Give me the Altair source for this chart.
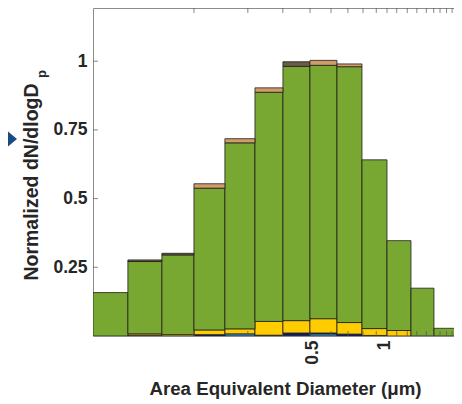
import altair as alt
import pandas as pd

# ---- data ----
bin_edges = [0.0601, 0.0841, 0.1167, 0.1589, 0.2141, 0.2860, 0.3744,
             0.4857, 0.6301, 0.8017, 1.0200, 1.2852, 1.6038, 2.0020]
layers = ["lightblue", "navy", "yellow", "green", "darkbrown", "tan"]
colors = ["#3d8fd8", "#0b1b8f", "#ffcc00", "#78a832", "#6b5a44", "#d29c68"]
lightblue = [0, 0.003, 0, 0, 0.008, 0, 0.003, 0.008, 0, 0, 0, 0, 0]
navy = [0, 0, 0, 0.005, 0, 0.003, 0.008, 0.003, 0.007, 0.002, 0, 0, 0]
yellow = [0, 0.005, 0.005, 0.017, 0.018, 0.050, 0.045, 0.052, 0.042, 0.025, 0.020, 0, 0]
green = [0.158, 0.263, 0.290, 0.516, 0.677, 0.834, 0.925, 0.922, 0.931, 0.614, 0.327, 0.174, 0.028]
darkbrown = [0, 0.006, 0.006, 0, 0, 0, 0.017, 0, 0, 0, 0, 0, 0]
tan = [0, 0, 0, 0.016, 0.015, 0.016, 0, 0.018, 0.010, 0, 0, 0, 0]
series = [lightblue, navy, yellow, green, darkbrown, tan]

x_ticks = [0.5, 1, 2]
y_ticks = [0.25, 0.5, 0.75, 1]
minor_ticks = [0.159, 0.267, 0.374, 0.486, 0.595, 0.70, 0.81, 0.92, 1.02,
               1.12, 1.24, 1.36, 1.49, 1.60, 1.70, 1.81, 1.91]

rows = []
for li, (name, vals) in enumerate(zip(layers, series)):
    for b, v in enumerate(vals):
        if v > 0:
            rows.append(dict(bin=b, lo=bin_edges[b], hi=bin_edges[b + 1],
                             layer=name, order=li, value=v))
df = pd.DataFrame(rows)

FONT = "Liberation Sans"
TXT = "#262626"
W, H = 361, 328
xscale = alt.Scale(type="log", domain=[0.0601, 1.945])
yscale = alt.Scale(domain=[0, 1.1936])

bars = alt.Chart(df).transform_stack(
    stack="value", groupby=["bin"], as_=["y0", "y1"], sort=[alt.SortField("order")]
).mark_rect(stroke="#1e1e1e", strokeWidth=0.8, clip=True).encode(
    x=alt.X("lo:Q", scale=xscale, axis=alt.Axis(
        values=x_ticks, format="~g", labelAngle=270, labelFont=FONT,
        labelFontSize=17.5, labelFontWeight="bold", labelColor=TXT,
        labelPadding=4, tickSize=0, grid=False, domainColor="#8c8c8c",
        title="Area Equivalent Diameter (μm)", titleFont=FONT,
        titleFontSize=18.7, titleFontWeight="bold", titleColor=TXT,
        titleX=192, titleY=58, titleAlign="center", titleBaseline="alphabetic")),
    x2="hi:Q",
    y=alt.Y("y0:Q", scale=yscale, axis=alt.Axis(
        values=y_ticks, format=".2~f",
        labelFont=FONT, labelFontSize=17.5, labelFontWeight="bold",
        labelColor=TXT, labelPadding=6, tickSize=0, grid=False,
        domainColor="#8c8c8c",
        title="Normalized dN/dlogD", titleFont=FONT, titleFontSize=19.5,
        titleFontWeight="bold", titleColor=TXT, titleAngle=270,
        titleX=-56, titleY=173.5, titleAlign="center",
        titleBaseline="alphabetic")),
    y2="y1:Q",
    color=alt.Color("layer:N", scale=alt.Scale(domain=layers, range=colors), legend=None),
)

tdf = pd.DataFrame({"t": minor_ticks})
top_ticks = alt.Chart(tdf).mark_tick(color="#555555", thickness=1, size=5).encode(
    x=alt.X("t:Q", scale=xscale, axis=alt.Axis(
        orient="top", labels=False, ticks=False, title=None, grid=False,
        domainColor="#8c8c8c")),
    y=alt.value(2.5),
)
bottom_ticks = alt.Chart(tdf).mark_tick(color="#555555", thickness=1, size=5).encode(
    x=alt.X("t:Q", scale=xscale, axis=None),
    y=alt.value(H - 2.5),
)
left_ticks = alt.Chart(pd.DataFrame({"v": y_ticks})).mark_tick(
    color="#555555", thickness=1, size=5).encode(
    y=alt.Y("v:Q", scale=yscale, axis=None),
    x=alt.value(2.5),
)
sub_p = alt.Chart(pd.DataFrame({"s": ["p"]})).mark_text(
    font=FONT, fontSize=13, fontWeight="bold", color=TXT, angle=270,
    align="center", baseline="alphabetic").encode(
    text="s:N", x=alt.value(-47), y=alt.value(66))
arrow = alt.Chart(pd.DataFrame({"a": [0]})).mark_point(
    shape="M-1,-1L0.214,0L-1,1Z", size=784, filled=True, color="#1b4a82",
    opacity=1, strokeWidth=0).encode(x=alt.value(-79), y=alt.value(131))

chart = alt.layer(bars, top_ticks, bottom_ticks, left_ticks, sub_p, arrow).resolve_axis(
    x="independent", y="independent"
).properties(
    width=W, height=H,
    autosize=alt.AutoSizeParams(type="none"),
    padding={"left": 85, "top": 0, "right": 0, "bottom": 64},
).configure_view(stroke=None)

chart.save("out.html", embed_options={"renderer": "svg", "actions": False})
